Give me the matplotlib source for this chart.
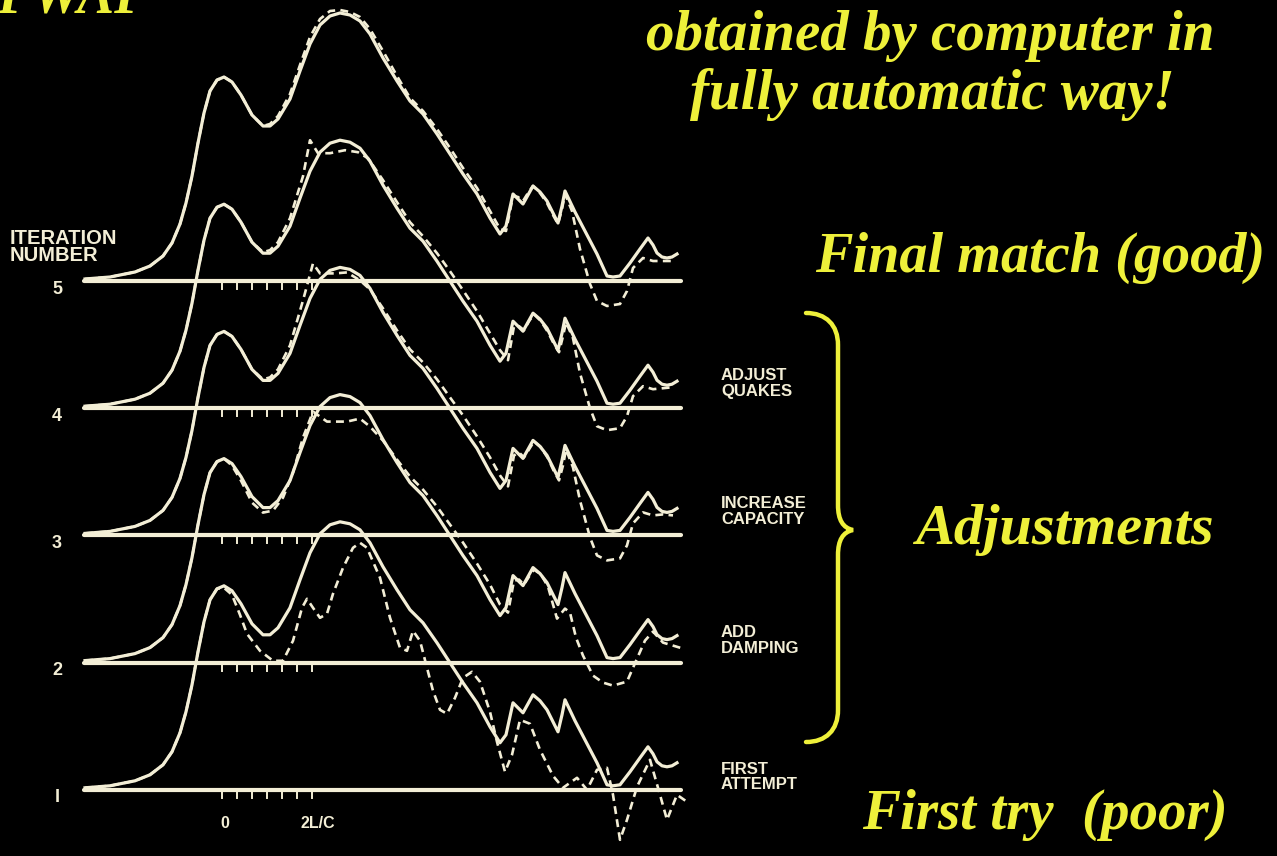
import numpy as np
import matplotlib.pyplot as plt
from matplotlib.path import Path
from matplotlib.patches import PathPatch

# iteration numbers, top to bottom, and their side notes
iterations = ["5", "4", "3", "2", "I"]
notes = ["", "ADJUST\nQUAKES", "INCREASE\nCAPACITY", "ADD\nDAMPING", "FIRST\nATTEMPT"]

measured = [(85, 2), (110, 4), (135, 9), (150, 15), (163, 25), (172, 38), (180, 57), (186, 78),
            (192, 105), (198, 138), (204, 168), (210, 190), (217, 201), (224, 204), (232, 199),
            (241, 186), (252, 166), (263, 155), (270, 155), (278, 162), (290, 182), (300, 210),
            (310, 237), (320, 256), (330, 265), (340, 268), (350, 266), (360, 260), (370, 247),
            (383, 223), (397, 200), (410, 180), (423, 167), (437, 147), (450, 127), (463, 107),
            (477, 87), (490, 63), (500, 47), (506, 55), (513, 87), (518, 82), (523, 77), (528, 86),
            (533, 95), (540, 89), (547, 80), (553, 68), (558, 58), (562, 75), (565, 90), (575, 69),
            (586, 48), (597, 27), (607, 5), (613, 4), (620, 5), (630, 18), (640, 32), (648, 43),
            (653, 36), (657, 28), (662, 24), (667, 23), (672, 24), (677, 27)]

# computed force (dashed), one per iteration
computed_5 = [(85, 2), (110, 4), (135, 9), (150, 15), (163, 25), (172, 38), (180, 57), (186, 78),
              (192, 105), (198, 138), (204, 168), (210, 190), (217, 201), (224, 204), (232, 199),
              (241, 186), (252, 166), (263, 155), (270, 157), (278, 165), (290, 187), (300, 216),
              (310, 244), (320, 262), (330, 270), (340, 271), (350, 269), (360, 264), (370, 252),
              (383, 230), (397, 205), (410, 183), (423, 170), (437, 152), (450, 133), (463, 113),
              (477, 93), (490, 70), (500, 52), (506, 50), (513, 85), (518, 84), (523, 80), (528, 88),
              (533, 95), (540, 88), (547, 78), (553, 66), (558, 57), (562, 72), (565, 87), (572, 70),
              (580, 32), (590, -3), (597, -20), (607, -25), (620, -23), (627, -10), (633, 13),
              (643, 23), (653, 20), (663, 20), (673, 20)]
computed_4 = [(85, 2), (110, 4), (135, 9), (150, 15), (163, 25), (172, 38), (180, 57), (186, 78),
              (192, 105), (198, 138), (204, 168), (210, 190), (217, 201), (224, 204), (232, 199),
              (241, 186), (252, 166), (263, 156), (270, 158), (278, 166), (290, 190), (303, 232),
              (310, 268), (318, 255), (330, 255), (345, 258), (358, 256), (368, 250), (383, 228),
              (397, 206), (410, 186), (423, 172), (437, 155), (450, 137), (463, 118), (477, 97),
              (490, 75), (500, 58), (508, 48), (514, 82), (519, 82), (524, 78), (529, 87), (534, 94),
              (541, 87), (548, 76), (554, 64), (559, 56), (563, 72), (566, 86), (573, 70), (580, 35),
              (590, 0), (597, -18), (607, -22), (620, -20), (627, -8), (633, 12), (643, 22),
              (653, 19), (663, 20), (673, 21)]
computed_3 = [(85, 2), (110, 4), (135, 9), (150, 15), (163, 25), (172, 38), (180, 57), (186, 78),
              (192, 105), (198, 138), (204, 168), (210, 190), (217, 201), (224, 204), (232, 199),
              (241, 186), (252, 166), (263, 156), (270, 158), (278, 166), (290, 190), (303, 235),
              (313, 272), (320, 262), (335, 262), (347, 263), (360, 255), (370, 246), (383, 227),
              (397, 205), (410, 186), (423, 173), (437, 156), (450, 138), (463, 120), (477, 99),
              (490, 78), (500, 60), (508, 49), (514, 80), (519, 83), (524, 78), (529, 86), (534, 94),
              (541, 88), (548, 77), (554, 64), (559, 55), (563, 70), (566, 86), (573, 68), (580, 35),
              (590, -2), (597, -20), (607, -25), (620, -23), (627, -10), (633, 12), (643, 23),
              (653, 20), (663, 21), (673, 20)]
computed_2 = [(85, 2), (110, 4), (135, 9), (150, 15), (163, 25), (172, 38), (180, 57), (186, 78),
              (192, 105), (198, 138), (204, 168), (210, 190), (217, 201), (224, 204), (232, 197),
              (241, 182), (252, 160), (263, 150), (273, 152), (283, 165), (293, 190), (303, 225),
              (313, 251), (327, 241), (347, 241), (360, 244), (370, 236), (383, 222), (397, 203),
              (410, 186), (423, 173), (437, 156), (450, 138), (463, 120), (477, 99), (490, 78),
              (500, 58), (508, 50), (514, 82), (519, 83), (524, 78), (529, 86), (534, 93), (541, 88),
              (548, 76), (557, 44), (565, 54), (570, 50), (576, 25), (583, 7), (593, -13),
              (603, -20), (613, -23), (627, -19), (637, 4), (645, 22), (653, 31), (663, 20),
              (673, 17), (683, 14)]
computed_1 = [(85, 2), (110, 4), (135, 9), (150, 15), (163, 25), (172, 38), (180, 57), (186, 78),
              (192, 105), (198, 138), (204, 168), (210, 190), (217, 201), (224, 202), (232, 195),
              (240, 175), (247, 156), (260, 139), (273, 129), (283, 129), (293, 149), (302, 182),
              (307, 191), (313, 182), (320, 172), (327, 176), (333, 196), (343, 222), (353, 242),
              (360, 247), (367, 242), (380, 212), (390, 172), (400, 142), (407, 139), (413, 159),
              (420, 149), (427, 122), (433, 99), (440, 80), (447, 76), (455, 92), (463, 112),
              (472, 118), (480, 108), (490, 78), (497, 48), (505, 18), (512, 35), (520, 70),
              (530, 66), (540, 40), (553, 14), (563, 2), (577, 12), (587, 0), (597, 20), (607, 22),
              (613, -5), (620, -50), (627, -30), (637, 3), (650, 30), (660, -5), (667, -30),
              (677, -5), (687, -12)]
computed = [computed_5, computed_4, computed_3, computed_2, computed_1]

# time axis marks: 0 ... 2L/C
tick_times = np.linspace(222, 312, 7)

cream = "#f3eed6"
yellow = "#eef03a"

fig = plt.figure(figsize=(12.77, 8.56), dpi=100, facecolor="black")
ax = fig.add_axes([0, 0, 1, 1])
ax.set_facecolor("black")
ax.set_xlim(0, 1277)
ax.set_ylim(856, 0)
ax.axis("off")

top_base = 281
gap = 127.2
note_dy = [0, -25, -24, -22, -13]

for i, (num, note, comp) in enumerate(zip(iterations, notes, computed)):
    base = top_base + i * gap
    ax.plot([84, 681], [base, base], color=cream, lw=3.0, solid_capstyle="round", zorder=2)
    for t in tick_times:
        ax.plot([t, t], [base + 2, base + 8], color=cream, lw=1.4, zorder=2)
    mx, mh = np.array(measured).T
    ax.plot(mx, base - mh, color=cream, lw=2.3, solid_joinstyle="round", zorder=3)
    cx, ch = np.array(comp).T
    ax.plot(cx, base - ch, color=cream, lw=1.9, ls=(0, (3.0, 2.0)), zorder=3)
    ax.text(57, base + 8, num, color=cream, fontsize=13, fontweight="bold",
            family="Liberation Sans", ha="center", va="center")
    if note:
        ax.text(721, base + note_dy[i], note, color=cream, fontsize=12, fontweight="bold",
                family="Liberation Sans", ha="left", va="center", linespacing=1.05)

ax.text(10, 247, "ITERATION\nNUMBER", color=cream, fontsize=14.5, fontweight="bold",
        family="Liberation Sans", ha="left", va="center", linespacing=0.9)
ax.text(225, 823, "0", color=cream, fontsize=11.5, fontweight="bold",
        family="Liberation Sans", ha="center", va="center")
ax.text(318, 823, "2L/C", color=cream, fontsize=11.5, fontweight="bold",
        family="Liberation Sans", ha="center", va="center")

# yellow slide text
serif = dict(color=yellow, family="Liberation Serif", fontweight="bold", style="italic")
ax.text(148, 12, "CAPWAP", ha="right", va="baseline", fontsize=40, **serif)
ax.text(930, 36, "obtained by computer in", ha="center", va="center", fontsize=41, **serif)
ax.text(932, 94, "fully automatic way!", ha="center", va="center", fontsize=41, **serif)
ax.text(815, 258, "Final match (good)", ha="left", va="center", fontsize=40.5, **serif)
ax.text(915, 530, "Adjustments", ha="left", va="center", fontsize=42, **serif)
ax.text(862, 815, "First try  (poor)", ha="left", va="center", fontsize=41, **serif)

# curly brace grouping the adjustment steps
bx, tip, top, mid, bot = 838, 853, 313, 530, 742
verts = [(806, top), (826, top), (bx, top + 12), (bx, top + 32),
         (bx, mid - 25),
         (bx, mid - 10), (bx + 5, mid - 2), (tip, mid),
         (bx + 5, mid + 2), (bx, mid + 10), (bx, mid + 25),
         (bx, bot - 32),
         (bx, bot - 12), (826, bot), (806, bot)]
codes = [Path.MOVETO, Path.CURVE4, Path.CURVE4, Path.CURVE4, Path.LINETO,
         Path.CURVE4, Path.CURVE4, Path.CURVE4, Path.CURVE4, Path.CURVE4, Path.CURVE4,
         Path.LINETO, Path.CURVE4, Path.CURVE4, Path.CURVE4]
ax.add_patch(PathPatch(Path(verts, codes), fill=False, edgecolor=yellow, lw=3.2, capstyle="round"))

fig.savefig("out.png", dpi=100, facecolor="black")
